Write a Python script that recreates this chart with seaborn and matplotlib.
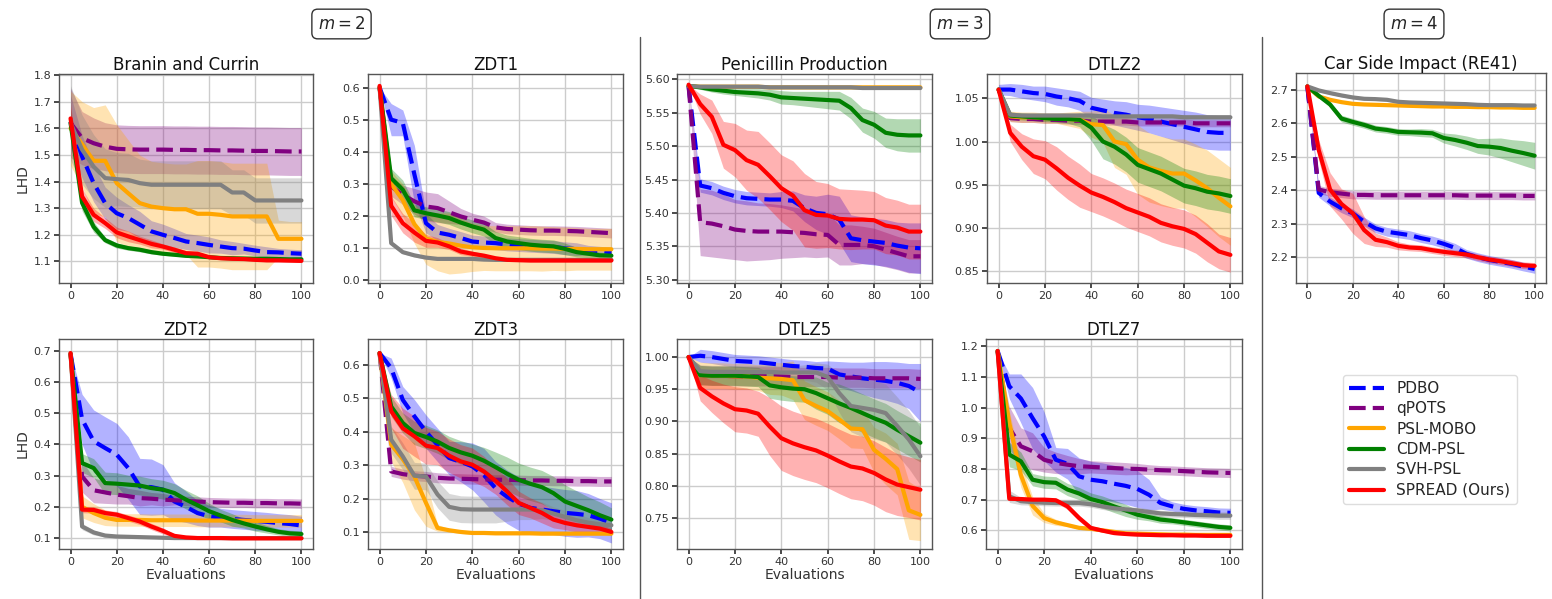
import numpy as np
import pandas as pd
import matplotlib
matplotlib.use("Agg")
import matplotlib.pyplot as plt
from matplotlib.lines import Line2D
import seaborn as sns

# ---------------------------------------------------------------- data
EVALS = [0, 5, 10, 15, 20, 25, 30, 35, 40, 45, 50, 55, 60, 65, 70, 75, 80, 85, 90, 95, 100]
METHODS = ["PDBO", "qPOTS", "PSL-MOBO", "CDM-PSL", "SVH-PSL", "SPREAD (Ours)"]
COLORS = ["blue", "purple", "orange", "green", "gray", "red"]

# Branin and Currin
bc_pdbo = [1.625,1.494,1.394,1.319,1.281,1.263,1.238,1.213,1.200,1.188,1.175,1.169,1.162,1.156,1.150,1.148,1.141,1.135,1.134,1.131,1.129]
bc_pdbo_sd = [0.10,0.08,0.07,0.06,0.06,0.05,0.05,0.04,0.04,0.035,0.03,0.03,0.03,0.025,0.025,0.02,0.02,0.02,0.015,0.015,0.015]
bc_qpots = [1.620,1.563,1.544,1.531,1.523,1.521,1.520,1.520,1.520,1.519,1.519,1.518,1.518,1.517,1.517,1.516,1.515,1.515,1.514,1.513,1.513]
bc_qpots_sd = [0.13,0.10,0.095,0.09,0.09,0.09,0.09,0.09,0.09,0.09,0.09,0.09,0.09,0.09,0.09,0.09,0.09,0.09,0.09,0.09,0.09]
bc_psl = [1.600,1.540,1.478,1.478,1.394,1.356,1.319,1.306,1.300,1.296,1.296,1.279,1.279,1.275,1.269,1.269,1.269,1.269,1.185,1.185,1.185]
bc_psl_sd = [0.14,0.16,0.20,0.21,0.22,0.20,0.18,0.17,0.17,0.17,0.17,0.20,0.20,0.20,0.20,0.20,0.20,0.20,0.07,0.065,0.065]
bc_cdm = [1.620,1.320,1.230,1.180,1.160,1.150,1.144,1.135,1.129,1.125,1.121,1.119,1.116,1.113,1.112,1.111,1.110,1.110,1.109,1.108,1.108]
bc_cdm_sd = [0.05,0.03,0.02,0.01,0.01,0.008,0.008,0.007,0.006,0.005,0.005,0.005,0.005,0.005,0.005,0.005,0.005,0.005,0.005,0.005,0.005]
bc_svh = [1.620,1.520,1.456,1.413,1.409,1.406,1.394,1.388,1.388,1.388,1.388,1.388,1.388,1.388,1.359,1.359,1.329,1.329,1.329,1.329,1.329]
bc_svh_sd = [0.14,0.13,0.12,0.11,0.10,0.10,0.09,0.09,0.09,0.09,0.09,0.09,0.09,0.09,0.085,0.085,0.085,0.085,0.085,0.085,0.085]
bc_spread = [1.637,1.344,1.275,1.244,1.209,1.194,1.180,1.166,1.156,1.144,1.131,1.129,1.116,1.112,1.110,1.109,1.106,1.104,1.104,1.103,1.102]
bc_spread_sd = [0.05,0.03,0.025,0.02,0.02,0.02,0.015,0.015,0.01,0.01,0.01,0.008,0.006,0.005,0.005,0.005,0.005,0.005,0.005,0.005,0.005]

# ZDT1
z1_pdbo = [0.600,0.500,0.490,0.330,0.178,0.149,0.142,0.132,0.121,0.118,0.116,0.112,0.110,0.108,0.106,0.104,0.100,0.097,0.094,0.091,0.088]
z1_pdbo_sd = [0.0,0.05,0.04,0.09,0.03,0.025,0.02,0.02,0.02,0.02,0.02,0.02,0.02,0.02,0.02,0.02,0.02,0.02,0.015,0.015,0.015]
z1_qpots = [0.600,0.292,0.266,0.246,0.230,0.225,0.212,0.199,0.189,0.180,0.165,0.160,0.158,0.156,0.155,0.155,0.154,0.153,0.151,0.149,0.147]
z1_qpots_sd = [0.0,0.03,0.03,0.04,0.045,0.045,0.035,0.025,0.02,0.02,0.015,0.015,0.015,0.015,0.015,0.015,0.015,0.015,0.015,0.015,0.015]
z1_psl = [0.600,0.300,0.250,0.175,0.130,0.120,0.115,0.108,0.103,0.101,0.100,0.100,0.100,0.100,0.099,0.099,0.098,0.098,0.097,0.097,0.097]
z1_psl_sd = [0.0,0.04,0.05,0.06,0.08,0.09,0.095,0.085,0.075,0.07,0.07,0.07,0.07,0.07,0.07,0.068,0.068,0.066,0.065,0.065,0.065]
z1_cdm = [0.600,0.318,0.282,0.218,0.209,0.202,0.194,0.180,0.168,0.158,0.132,0.121,0.116,0.111,0.108,0.106,0.098,0.088,0.083,0.078,0.077]
z1_cdm_sd = [0.0,0.03,0.03,0.02,0.02,0.02,0.02,0.02,0.02,0.02,0.02,0.02,0.02,0.02,0.02,0.02,0.018,0.015,0.012,0.01,0.01]
z1_svh = [0.600,0.116,0.088,0.078,0.071,0.067,0.067,0.067,0.067,0.065,0.064,0.064,0.064,0.064,0.064,0.064,0.064,0.064,0.064,0.064,0.064]
z1_svh_sd = [0.0,0.006,0.005,0.005,0.005,0.005,0.005,0.005,0.005,0.005,0.005,0.005,0.005,0.005,0.005,0.005,0.005,0.005,0.005,0.005,0.005]
z1_spread = [0.605,0.232,0.178,0.149,0.123,0.118,0.106,0.090,0.083,0.077,0.069,0.064,0.063,0.062,0.062,0.062,0.062,0.062,0.062,0.062,0.062]
z1_spread_sd = [0.0,0.03,0.03,0.03,0.02,0.015,0.01,0.01,0.008,0.006,0.005,0.005,0.005,0.005,0.005,0.005,0.005,0.005,0.005,0.005,0.005]

# Penicillin Production
pen_pdbo = [5.590,5.441,5.437,5.430,5.425,5.422,5.421,5.420,5.420,5.418,5.407,5.400,5.398,5.390,5.362,5.359,5.357,5.355,5.351,5.348,5.347]
pen_pdbo_sd = [0.0,0.01,0.01,0.01,0.01,0.01,0.01,0.01,0.012,0.015,0.02,0.025,0.03,0.035,0.035,0.035,0.035,0.035,0.035,0.037,0.038]
pen_qpots = [5.590,5.386,5.384,5.380,5.375,5.373,5.372,5.372,5.372,5.371,5.370,5.368,5.367,5.352,5.352,5.352,5.350,5.345,5.340,5.335,5.335]
pen_qpots_sd = [0.0,0.05,0.05,0.048,0.045,0.045,0.043,0.042,0.04,0.038,0.036,0.035,0.033,0.03,0.03,0.028,0.027,0.026,0.025,0.025,0.025]
pen_psl = [5.590,5.589,5.589,5.589,5.589,5.589,5.589,5.588,5.588,5.588,5.588,5.588,5.588,5.588,5.588,5.588,5.588,5.588,5.588,5.588,5.588]
pen_psl_sd = [0.0,0.001,0.001,0.001,0.001,0.001,0.001,0.001,0.001,0.001,0.001,0.001,0.001,0.001,0.001,0.001,0.001,0.001,0.001,0.001,0.001]
pen_cdm = [5.590,5.588,5.585,5.583,5.581,5.580,5.579,5.577,5.573,5.572,5.571,5.570,5.569,5.568,5.557,5.539,5.532,5.520,5.517,5.516,5.516]
pen_cdm_sd = [0.0,0.003,0.004,0.005,0.005,0.006,0.007,0.008,0.01,0.01,0.011,0.012,0.013,0.014,0.016,0.018,0.02,0.022,0.024,0.025,0.025]
pen_svh = [5.590,5.589,5.589,5.589,5.589,5.589,5.589,5.588,5.588,5.588,5.588,5.588,5.588,5.588,5.588,5.587,5.587,5.587,5.587,5.587,5.587]
pen_svh_sd = [0.0,0.002,0.002,0.002,0.002,0.002,0.002,0.002,0.002,0.002,0.002,0.002,0.002,0.002,0.002,0.002,0.002,0.002,0.002,0.002,0.002]
pen_spread = [5.592,5.563,5.544,5.502,5.494,5.479,5.472,5.455,5.437,5.426,5.404,5.397,5.396,5.391,5.390,5.390,5.389,5.381,5.378,5.372,5.372]
pen_spread_sd = [0.0,0.015,0.025,0.035,0.04,0.045,0.05,0.05,0.05,0.052,0.055,0.05,0.048,0.045,0.045,0.044,0.043,0.042,0.041,0.041,0.041]

# DTLZ2
d2_pdbo = [1.060,1.060,1.058,1.056,1.055,1.052,1.050,1.047,1.039,1.036,1.033,1.031,1.028,1.026,1.023,1.020,1.017,1.014,1.011,1.010,1.010]
d2_pdbo_sd = [0.006,0.007,0.008,0.008,0.009,0.01,0.01,0.011,0.012,0.013,0.014,0.015,0.015,0.016,0.017,0.018,0.019,0.02,0.02,0.02,0.02]
d2_qpots = [1.060,1.027,1.026,1.026,1.025,1.025,1.024,1.024,1.023,1.023,1.023,1.023,1.022,1.022,1.022,1.022,1.022,1.021,1.021,1.021,1.021]
d2_qpots_sd = [0.0,0.004,0.004,0.004,0.004,0.004,0.004,0.004,0.004,0.004,0.004,0.004,0.004,0.004,0.004,0.004,0.004,0.004,0.004,0.004,0.004]
d2_psl = [1.060,1.029,1.028,1.028,1.027,1.027,1.026,1.025,1.020,1.019,1.000,0.997,0.979,0.970,0.966,0.963,0.963,0.955,0.946,0.935,0.925]
d2_psl_sd = [0.0,0.006,0.006,0.006,0.006,0.006,0.008,0.01,0.015,0.02,0.03,0.035,0.04,0.04,0.04,0.04,0.04,0.042,0.044,0.045,0.045]
d2_cdm = [1.060,1.030,1.029,1.028,1.027,1.026,1.026,1.025,1.016,1.000,0.994,0.985,0.973,0.968,0.963,0.956,0.949,0.946,0.942,0.940,0.937]
d2_cdm_sd = [0.0,0.004,0.004,0.004,0.004,0.004,0.005,0.008,0.015,0.02,0.02,0.02,0.02,0.02,0.02,0.02,0.02,0.02,0.02,0.02,0.02]
d2_svh = [1.060,1.031,1.030,1.030,1.030,1.030,1.030,1.030,1.030,1.029,1.029,1.029,1.029,1.029,1.029,1.029,1.028,1.028,1.028,1.028,1.028]
d2_svh_sd = [0.0,0.003,0.003,0.003,0.003,0.003,0.003,0.003,0.003,0.003,0.003,0.003,0.003,0.003,0.003,0.003,0.003,0.003,0.003,0.003,0.003]
d2_spread = [1.060,1.010,0.994,0.983,0.979,0.969,0.958,0.949,0.941,0.936,0.930,0.923,0.918,0.913,0.906,0.902,0.899,0.893,0.883,0.873,0.869]
d2_spread_sd = [0.0,0.01,0.015,0.02,0.022,0.025,0.025,0.025,0.022,0.022,0.022,0.022,0.022,0.022,0.022,0.022,0.022,0.022,0.022,0.02,0.02]

# Car Side Impact (RE41)
car_pdbo = [2.710,2.392,2.366,2.346,2.331,2.306,2.286,2.276,2.271,2.266,2.257,2.250,2.240,2.228,2.210,2.200,2.192,2.186,2.180,2.172,2.165]
car_pdbo_sd = [0.0,0.013,0.013,0.013,0.013,0.013,0.013,0.013,0.013,0.013,0.013,0.013,0.013,0.013,0.013,0.013,0.013,0.013,0.013,0.013,0.013]
car_qpots = [2.710,2.402,2.394,2.390,2.386,2.386,2.385,2.385,2.385,2.385,2.385,2.385,2.385,2.385,2.384,2.384,2.384,2.384,2.384,2.383,2.383]
car_qpots_sd = [0.0,0.012,0.012,0.012,0.012,0.012,0.012,0.012,0.012,0.012,0.012,0.012,0.012,0.012,0.012,0.012,0.012,0.012,0.012,0.012,0.012]
car_psl = [2.710,2.680,2.670,2.663,2.658,2.656,2.655,2.654,2.653,2.652,2.651,2.650,2.650,2.649,2.649,2.648,2.648,2.647,2.647,2.646,2.646]
car_psl_sd = [0.0,0.003,0.003,0.003,0.003,0.003,0.003,0.003,0.003,0.003,0.003,0.003,0.003,0.003,0.003,0.003,0.003,0.003,0.003,0.003,0.003]
car_cdm = [2.710,2.682,2.656,2.614,2.604,2.595,2.584,2.580,2.574,2.573,2.572,2.570,2.556,2.550,2.542,2.532,2.530,2.526,2.518,2.511,2.503]
car_cdm_sd = [0.0,0.005,0.008,0.01,0.01,0.01,0.01,0.01,0.01,0.01,0.012,0.012,0.015,0.018,0.02,0.022,0.025,0.03,0.033,0.037,0.04]
car_svh = [2.710,2.698,2.690,2.683,2.677,2.673,2.672,2.670,2.664,2.662,2.661,2.660,2.659,2.658,2.657,2.655,2.654,2.654,2.654,2.653,2.653]
car_svh_sd = [0.0,0.004,0.004,0.004,0.004,0.004,0.004,0.004,0.004,0.004,0.004,0.004,0.004,0.004,0.004,0.004,0.004,0.004,0.004,0.004,0.004]
car_spread = [2.710,2.520,2.402,2.359,2.331,2.281,2.252,2.245,2.234,2.229,2.227,2.221,2.216,2.212,2.208,2.200,2.193,2.188,2.182,2.176,2.174]
car_spread_sd = [0.0,0.03,0.05,0.045,0.06,0.04,0.02,0.015,0.012,0.01,0.01,0.01,0.01,0.01,0.01,0.01,0.01,0.01,0.01,0.01,0.01]

# ZDT2
z2_pdbo = [0.690,0.480,0.410,0.388,0.367,0.324,0.265,0.263,0.255,0.217,0.200,0.180,0.170,0.165,0.161,0.158,0.155,0.152,0.148,0.145,0.140]
z2_pdbo_sd = [0.0,0.08,0.10,0.10,0.10,0.10,0.09,0.09,0.08,0.06,0.05,0.04,0.035,0.03,0.03,0.03,0.03,0.03,0.03,0.03,0.03]
z2_qpots = [0.690,0.297,0.253,0.246,0.239,0.234,0.228,0.226,0.223,0.221,0.219,0.217,0.215,0.214,0.213,0.213,0.212,0.212,0.211,0.211,0.210]
z2_qpots_sd = [0.0,0.05,0.04,0.035,0.03,0.025,0.025,0.02,0.02,0.015,0.015,0.015,0.015,0.015,0.015,0.015,0.015,0.015,0.015,0.015,0.015]
z2_psl = [0.690,0.200,0.180,0.165,0.158,0.158,0.158,0.157,0.157,0.157,0.157,0.156,0.156,0.156,0.156,0.156,0.155,0.155,0.155,0.155,0.155]
z2_psl_sd = [0.0,0.035,0.03,0.025,0.02,0.02,0.02,0.02,0.02,0.02,0.02,0.02,0.02,0.02,0.02,0.02,0.02,0.02,0.02,0.02,0.02]
z2_cdm = [0.690,0.340,0.324,0.276,0.274,0.271,0.268,0.260,0.255,0.244,0.223,0.205,0.186,0.172,0.158,0.147,0.137,0.128,0.120,0.115,0.113]
z2_cdm_sd = [0.0,0.03,0.03,0.035,0.035,0.03,0.03,0.03,0.03,0.03,0.03,0.03,0.025,0.02,0.02,0.015,0.015,0.012,0.01,0.01,0.01]
z2_svh = [0.690,0.137,0.118,0.108,0.105,0.104,0.103,0.102,0.101,0.100,0.100,0.100,0.100,0.100,0.100,0.100,0.100,0.100,0.100,0.100,0.100]
z2_svh_sd = [0.0,0.01,0.008,0.005,0.004,0.003,0.003,0.003,0.003,0.003,0.003,0.003,0.003,0.003,0.003,0.003,0.003,0.003,0.003,0.003,0.003]
z2_spread = [0.692,0.191,0.190,0.180,0.175,0.164,0.153,0.137,0.123,0.107,0.102,0.100,0.100,0.100,0.099,0.099,0.099,0.099,0.099,0.099,0.099]
z2_spread_sd = [0.0,0.01,0.01,0.01,0.01,0.01,0.01,0.01,0.01,0.005,0.004,0.003,0.003,0.003,0.003,0.003,0.003,0.003,0.003,0.003,0.003]

# ZDT3
z3_pdbo = [0.635,0.590,0.495,0.446,0.400,0.360,0.321,0.310,0.296,0.270,0.231,0.205,0.185,0.172,0.167,0.162,0.157,0.154,0.150,0.140,0.127]
z3_pdbo_sd = [0.0,0.03,0.04,0.05,0.05,0.05,0.05,0.06,0.07,0.08,0.08,0.08,0.08,0.08,0.07,0.07,0.07,0.07,0.065,0.06,0.06]
z3_qpots = [0.635,0.281,0.273,0.268,0.266,0.262,0.260,0.259,0.258,0.257,0.256,0.256,0.255,0.254,0.254,0.253,0.253,0.252,0.252,0.251,0.251]
z3_qpots_sd = [0.0,0.015,0.015,0.015,0.015,0.015,0.015,0.015,0.015,0.015,0.015,0.015,0.015,0.015,0.015,0.015,0.015,0.015,0.015,0.015,0.015]
z3_psl = [0.635,0.361,0.318,0.266,0.187,0.112,0.105,0.100,0.097,0.097,0.096,0.096,0.096,0.096,0.095,0.095,0.095,0.095,0.095,0.095,0.095]
z3_psl_sd = [0.0,0.05,0.07,0.10,0.07,0.01,0.005,0.005,0.005,0.005,0.005,0.005,0.005,0.005,0.005,0.005,0.005,0.005,0.005,0.005,0.005]
z3_cdm = [0.635,0.475,0.426,0.396,0.384,0.370,0.351,0.338,0.328,0.313,0.294,0.274,0.256,0.244,0.234,0.216,0.191,0.178,0.165,0.150,0.137]
z3_cdm_sd = [0.0,0.03,0.03,0.035,0.035,0.035,0.035,0.035,0.035,0.04,0.045,0.05,0.05,0.05,0.05,0.05,0.05,0.045,0.04,0.04,0.035]
z3_svh = [0.635,0.376,0.326,0.268,0.266,0.212,0.175,0.168,0.167,0.167,0.167,0.167,0.167,0.167,0.165,0.155,0.145,0.135,0.128,0.123,0.120]
z3_svh_sd = [0.0,0.04,0.04,0.04,0.04,0.04,0.04,0.04,0.04,0.04,0.04,0.035,0.03,0.03,0.025,0.02,0.02,0.02,0.015,0.015,0.015]
z3_spread = [0.635,0.461,0.410,0.386,0.358,0.351,0.328,0.311,0.301,0.281,0.253,0.221,0.187,0.172,0.157,0.137,0.127,0.120,0.115,0.110,0.100]
z3_spread_sd = [0.0,0.05,0.06,0.06,0.055,0.05,0.05,0.05,0.05,0.045,0.04,0.04,0.035,0.03,0.03,0.025,0.02,0.02,0.015,0.015,0.01]

# DTLZ5
d5_pdbo = [1.000,1.002,1.000,0.997,0.994,0.993,0.992,0.990,0.988,0.986,0.985,0.983,0.982,0.973,0.970,0.967,0.965,0.963,0.960,0.955,0.945]
d5_pdbo_sd = [0.0,0.01,0.01,0.01,0.01,0.01,0.01,0.01,0.01,0.01,0.01,0.01,0.012,0.02,0.022,0.025,0.028,0.03,0.032,0.035,0.045]
d5_qpots = [1.000,0.972,0.971,0.971,0.970,0.970,0.970,0.970,0.970,0.969,0.969,0.969,0.969,0.968,0.968,0.968,0.967,0.967,0.967,0.967,0.966]
d5_qpots_sd = [0.0,0.015,0.015,0.015,0.015,0.015,0.015,0.015,0.015,0.015,0.015,0.015,0.015,0.015,0.015,0.015,0.015,0.015,0.015,0.015,0.015]
d5_psl = [1.000,0.972,0.971,0.971,0.970,0.970,0.968,0.967,0.966,0.964,0.933,0.924,0.916,0.903,0.889,0.888,0.856,0.842,0.826,0.762,0.755]
d5_psl_sd = [0.0,0.02,0.02,0.02,0.02,0.02,0.02,0.025,0.025,0.03,0.03,0.03,0.03,0.03,0.03,0.03,0.035,0.04,0.04,0.045,0.04]
d5_cdm = [1.000,0.972,0.971,0.971,0.971,0.970,0.969,0.956,0.953,0.951,0.950,0.944,0.936,0.928,0.921,0.913,0.905,0.898,0.887,0.877,0.867]
d5_cdm_sd = [0.0,0.015,0.015,0.015,0.015,0.015,0.015,0.02,0.02,0.02,0.02,0.025,0.025,0.03,0.03,0.03,0.03,0.03,0.03,0.03,0.03]
d5_svh = [1.000,0.978,0.977,0.977,0.977,0.977,0.977,0.977,0.976,0.976,0.976,0.976,0.969,0.944,0.924,0.921,0.918,0.913,0.893,0.872,0.846]
d5_svh_sd = [0.0,0.01,0.01,0.01,0.01,0.01,0.01,0.01,0.01,0.01,0.012,0.015,0.02,0.03,0.04,0.045,0.045,0.045,0.045,0.045,0.045]
d5_spread = [1.000,0.952,0.939,0.928,0.919,0.917,0.912,0.892,0.874,0.866,0.860,0.855,0.847,0.838,0.830,0.827,0.820,0.810,0.802,0.798,0.794]
d5_spread_sd = [0.0,0.02,0.025,0.03,0.035,0.035,0.035,0.045,0.05,0.05,0.05,0.05,0.05,0.05,0.05,0.05,0.05,0.05,0.048,0.047,0.047]

# DTLZ7
d7_pdbo = [1.185,1.070,1.030,0.966,0.906,0.830,0.817,0.776,0.765,0.760,0.752,0.745,0.735,0.716,0.689,0.678,0.670,0.665,0.662,0.658,0.657]
d7_pdbo_sd = [0.0,0.04,0.08,0.10,0.08,0.04,0.05,0.06,0.06,0.06,0.06,0.06,0.06,0.05,0.02,0.015,0.015,0.015,0.015,0.015,0.015]
d7_qpots = [1.185,0.934,0.874,0.858,0.830,0.820,0.814,0.809,0.807,0.805,0.803,0.801,0.800,0.798,0.796,0.795,0.793,0.791,0.789,0.788,0.787]
d7_qpots_sd = [0.0,0.07,0.06,0.06,0.04,0.035,0.03,0.025,0.02,0.02,0.02,0.02,0.018,0.016,0.015,0.015,0.015,0.015,0.015,0.015,0.015]
d7_psl = [1.185,0.950,0.780,0.680,0.640,0.626,0.617,0.608,0.605,0.600,0.595,0.590,0.589,0.588,0.587,0.586,0.586,0.585,0.585,0.585,0.585]
d7_psl_sd = [0.0,0.04,0.04,0.03,0.015,0.01,0.005,0.005,0.005,0.005,0.005,0.005,0.005,0.005,0.005,0.005,0.005,0.005,0.005,0.005,0.005]
d7_cdm = [1.185,0.847,0.825,0.765,0.757,0.755,0.733,0.720,0.702,0.692,0.678,0.665,0.651,0.643,0.635,0.631,0.626,0.621,0.616,0.611,0.608]
d7_cdm_sd = [0.0,0.04,0.03,0.02,0.02,0.02,0.02,0.02,0.02,0.02,0.02,0.02,0.015,0.012,0.012,0.01,0.01,0.01,0.01,0.01,0.01]
d7_svh = [1.185,0.711,0.695,0.692,0.690,0.689,0.689,0.689,0.685,0.678,0.672,0.668,0.665,0.660,0.655,0.653,0.652,0.650,0.649,0.648,0.648]
d7_svh_sd = [0.0,0.02,0.012,0.01,0.01,0.01,0.01,0.01,0.01,0.01,0.01,0.01,0.01,0.01,0.01,0.01,0.01,0.01,0.011,0.012,0.012]
d7_spread = [1.185,0.703,0.702,0.700,0.700,0.698,0.678,0.640,0.608,0.599,0.591,0.588,0.586,0.585,0.584,0.584,0.583,0.583,0.582,0.582,0.582]
d7_spread_sd = [0.0,0.005,0.005,0.005,0.005,0.006,0.01,0.01,0.008,0.005,0.005,0.005,0.005,0.005,0.005,0.005,0.005,0.005,0.005,0.005,0.005]

# axis ticks and limits
BC_YTICKS = [1.1, 1.2, 1.3, 1.4, 1.5, 1.6, 1.7, 1.8]
Z1_YTICKS = [0.0, 0.1, 0.2, 0.3, 0.4, 0.5, 0.6]
PEN_YTICKS = [5.30, 5.35, 5.40, 5.45, 5.50, 5.55, 5.60]
D2_YTICKS = [0.85, 0.90, 0.95, 1.00, 1.05]
CAR_YTICKS = [2.2, 2.3, 2.4, 2.5, 2.6, 2.7]
Z2_YTICKS = [0.1, 0.2, 0.3, 0.4, 0.5, 0.6, 0.7]
Z3_YTICKS = [0.1, 0.2, 0.3, 0.4, 0.5, 0.6]
D5_YTICKS = [0.75, 0.80, 0.85, 0.90, 0.95, 1.00]
D7_YTICKS = [0.6, 0.7, 0.8, 0.9, 1.0, 1.1, 1.2]
XTICKS = [0, 20, 40, 60, 80, 100]

# ---------------------------------------------------------------- panels
def pack(prefix):
    g = globals()
    return {m: (g[f"{prefix}_{k}"], g[f"{prefix}_{k}_sd"])
            for m, k in zip(METHODS, ["pdbo", "qpots", "psl", "cdm", "svh", "spread"])}

W, H = 1552, 599
def rect(l, t, r, b):
    return [l / W, 1 - b / H, (r - l) / W, (b - t) / H]

panels = [
    ("Branin and Currin", "bc", BC_YTICKS, (1.019, 1.804), "%.1f", rect(59, 74, 313, 283), True, False),
    ("ZDT1", "z1", Z1_YTICKS, (-0.008, 0.642), "%.1f", rect(368, 74, 623, 283), False, False),
    ("Penicillin Production", "pen", PEN_YTICKS, (5.295, 5.608), "%.2f", rect(677, 74, 932, 283), False, False),
    ("DTLZ2", "d2", D2_YTICKS, (0.8365, 1.078), "%.2f", rect(987, 74, 1242, 283), False, False),
    ("Car Side Impact (RE41)", "car", CAR_YTICKS, (2.123, 2.750), "%.1f", rect(1296, 73, 1546, 283), False, False),
    ("ZDT2", "z2", Z2_YTICKS, (0.065, 0.737), "%.1f", rect(59, 339, 313, 549), True, True),
    ("ZDT3", "z3", Z3_YTICKS, (0.049, 0.677), "%.1f", rect(368, 339, 623, 549), False, True),
    ("DTLZ5", "d5", D5_YTICKS, (0.702, 1.028), "%.2f", rect(677, 339, 932, 549), False, True),
    ("DTLZ7", "d7", D7_YTICKS, (0.539, 1.224), "%.1f", rect(986, 339, 1242, 549), False, True),
]

sns.set_theme(style="whitegrid", rc={
    "axes.edgecolor": "#555555", "axes.linewidth": 1.0,
    "grid.color": "#cccccc", "grid.linewidth": 1.0,
    "xtick.bottom": True, "ytick.left": True,
    "xtick.major.size": 3.5, "ytick.major.size": 3.5,
    "xtick.color": "#333333", "ytick.color": "#333333",
})
plt.rcParams["font.family"] = ["DejaVu Sans"]

palette = dict(zip(METHODS, COLORS))
DASH = (4, 1.7)
dashes = {m: (DASH if m in ("PDBO", "qPOTS") else "") for m in METHODS}

fig = plt.figure(figsize=(W / 100, H / 100), dpi=100)

for title, key, yticks, ylim, fmt, r, ylab, xlab in panels:
    ax = fig.add_axes(r)
    data = pack(key)
    rows = []
    for m in METHODS:
        mean, sd = data[m]
        mean = np.asarray(mean); sd = np.asarray(sd)
        ax.fill_between(EVALS, mean - sd, mean + sd, color=palette[m], alpha=0.3, lw=0, zorder=1)
        rows.append(pd.DataFrame({"Evaluations": EVALS, "LHD": mean, "Method": m}))
    df = pd.concat(rows, ignore_index=True)
    sns.lineplot(data=df, x="Evaluations", y="LHD", hue="Method", style="Method",
                 hue_order=METHODS, style_order=METHODS, palette=palette, dashes=dashes,
                 linewidth=3, errorbar=None, legend=False, ax=ax, zorder=3)
    ax.set_xlim(-5, 105)
    ax.set_ylim(*ylim)
    ax.set_xticks(XTICKS)
    ax.set_yticks(yticks)
    ax.yaxis.set_major_formatter(matplotlib.ticker.FormatStrFormatter(fmt))
    ax.tick_params(labelsize=8, pad=2)
    ax.set_title(title, fontsize=12, pad=3, color="#111111")
    ax.set_ylabel("LHD" if ylab else "", fontsize=10, labelpad=3, color="#333333")
    ax.set_xlabel("Evaluations" if xlab else "", fontsize=10, labelpad=1, color="#333333")
    ax.grid(True)
    for s in ax.spines.values():
        s.set_color("#555555")

# separators
for xs in (640 / W, 1262 / W):
    fig.add_artist(Line2D([xs, xs], [0.0, 1 - 37 / H], transform=fig.transFigure,
                          color="#555555", lw=1.0))

# group headers
for label, xc in (("$m = 2$", 341.5 / W), ("$m = 3$", 960 / W), ("$m = 4$", 1414 / W)):
    fig.text(xc, 1 - 24 / H, label, ha="center", va="center", fontsize=12,
             bbox=dict(boxstyle="round,pad=0.35", fc="white", ec="#333333", lw=1.0))

# legend
handles = [Line2D([0], [0], color=c, lw=3, dashes=(DASH if m in ("PDBO", "qPOTS") else (None, None)))
           for m, c in zip(METHODS, COLORS)]
fig.legend(handles, METHODS, loc="upper left", bbox_to_anchor=(1343 / W, 1 - 375 / H),
           borderaxespad=0, fontsize=11, handlelength=2.3, labelspacing=0.35,
           frameon=True, fancybox=True, framealpha=1, edgecolor="#dddddd")

fig.savefig("out.png", dpi=100)
